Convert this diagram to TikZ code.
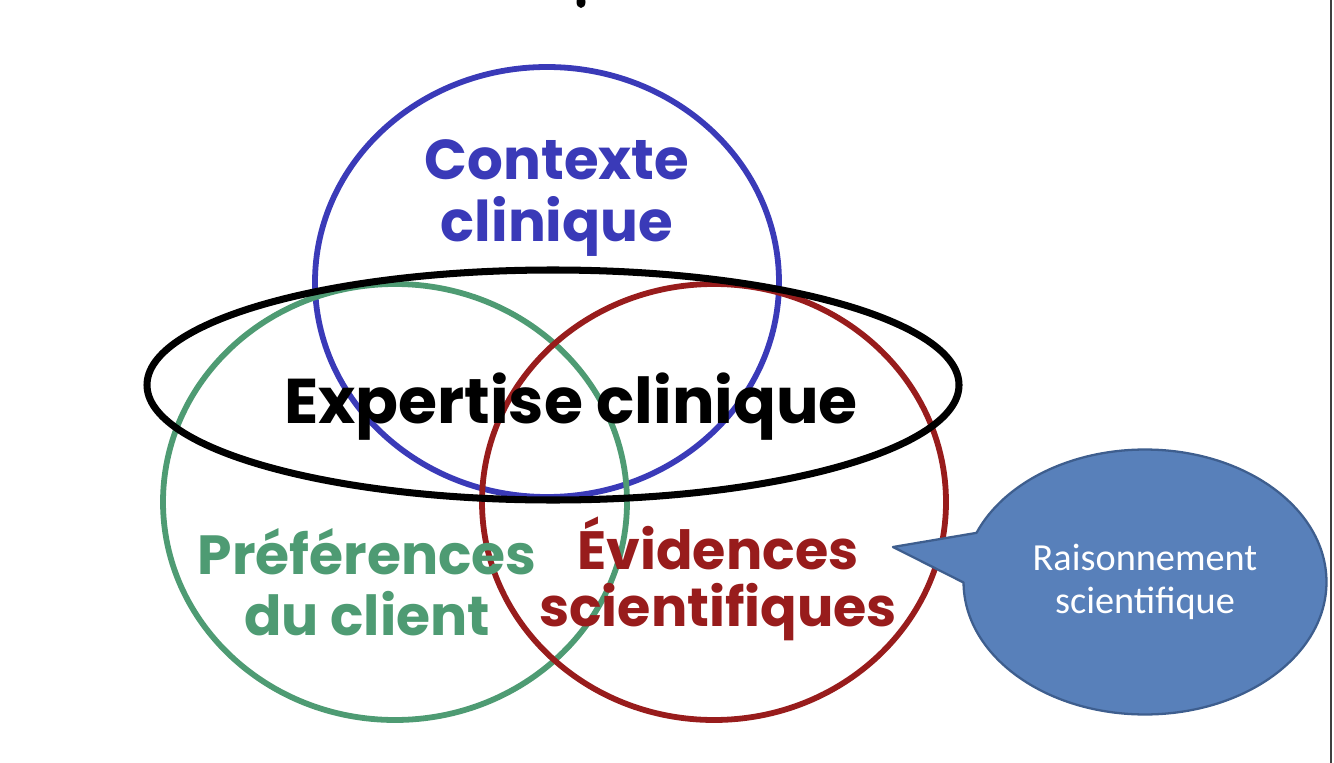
\documentclass[tikz,border=0pt]{standalone}
\usepackage{fontspec}
\newfontfamily\gothic{Poppins}
\newfontfamily\calib{Carlito}
\usetikzlibrary{shapes.callouts}

\definecolor{ctxblue}{HTML}{3A3AB8}
\definecolor{prefgreen}{HTML}{4E9B73}
\definecolor{evired}{HTML}{981C1C}
\definecolor{bubblefill}{HTML}{5880BA}
\definecolor{bubbleedge}{HTML}{3E5E8E}

\tikzset{
  ring/.style={line width=3.3pt},
  bigword/.style 2 args={font=\gothic\bfseries\fontsize{#1}{#2}\selectfont, align=center, inner sep=0pt},
}

\begin{document}
\begin{tikzpicture}[x=0.02cm, y=-0.02cm, line cap=round, line join=round]
		
		\useasboundingbox (0,0) rectangle (1334,763);
		
		% ---------- frame edge and stray mark ----------
		\draw[line width=1.4pt, black!75] (1331,0) -- (1331,763);
		\fill (581,2) ellipse [x radius=4.5, y radius=6];
		
		% ---------- the three circles ----------
		\draw[ring, ctxblue] (547,282) ellipse [x radius=232, y radius=215];
		\draw[ring, prefgreen] (395,502) ellipse [x radius=232, y radius=218];
		\draw[ring, evired] (714,502) ellipse [x radius=232, y radius=218];
		
		% ---------- expertise ellipse ----------
		\draw[line width=4pt] (553,385) ellipse [x radius=406, y radius=115];
		
		% labels
		\node[bigword={32}{35}, text=ctxblue] (ctx) at (557,198) {Contexte\\clinique};
		\node[bigword={36}{38}] (exp) at (571,407) {Expertise clinique};
		\node[bigword={31.4}{35}, text=prefgreen] (pref) at (367,582) {Préférences\\du client};
		\node[bigword={30.7}{32.3}, text=evired] (evi) at (718,579) {Évidences\\scientifiques};
		
		% ---------- callout bubble ----------
		\node[ellipse callout, draw=bubbleedge, fill=bubblefill, line width=1.3pt,
		minimum width=7.26cm, minimum height=5.3cm, inner sep=0pt,
		callout absolute pointer={(893,547)}, callout pointer arc=22,
		text=white, font=\calib\fontsize{21.8}{24.4}\selectfont, align=center]
		(raison) at (1145,582) {Raisonnement\\scientifique};
		
	\end{tikzpicture}
\end{document}
